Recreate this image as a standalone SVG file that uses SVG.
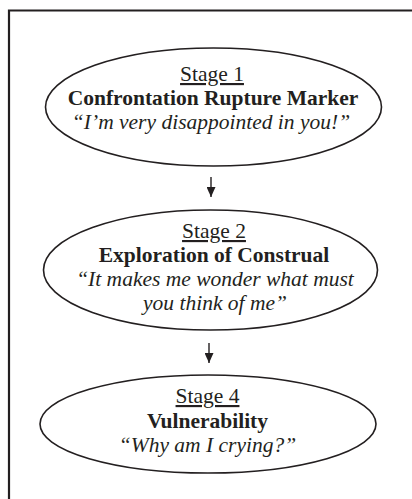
<svg xmlns="http://www.w3.org/2000/svg" width="412" height="499" viewBox="0 0 412 499">
<style>
.frame{fill:none;stroke:#231f20;stroke-width:2.2}
.node ellipse{fill:#fff;stroke:#231f20;stroke-width:1.6}
text{font-family:"Liberation Serif","Times New Roman",serif;font-size:21.5px;fill:#231f20;text-anchor:middle}
.stage{text-decoration:underline}
.title{font-weight:bold}
.quote{font-style:italic}
.edge{stroke:#231f20;stroke-width:1.4;fill:none;marker-end:url(#ah)}
</style>
<defs>
<marker id="ah" markerWidth="10" markerHeight="9" refX="10" refY="4.5" orient="auto" markerUnits="userSpaceOnUse" viewBox="0 0 10 9">
<path d="M0,0 L10,4.5 L0,9 Z" fill="#231f20"/>
</marker>
</defs>
<path class="frame" d="M9,499 L9,10.5 L412,10.5"/>
<g id="edges">
<line class="edge" x1="211" y1="177" x2="211" y2="197"/>
<line class="edge" x1="209" y1="343" x2="209" y2="363"/>
</g>
<g id="stage1" class="node">
<ellipse cx="213.5" cy="107" rx="168" ry="59"/>
<text x="212" y="81" class="stage">Stage 1</text>
<text x="213" y="105" class="title">Confrontation Rupture Marker</text>
<text x="211" y="129" class="quote">“I’m very disappointed in you!”</text>
</g>
<g id="stage2" class="node">
<ellipse cx="210.5" cy="270" rx="167" ry="60"/>
<text x="214" y="238" class="stage">Stage 2</text>
<text x="214" y="262" class="title">Exploration of Construal</text>
<text x="215" y="286" class="quote">“It makes me wonder what must</text>
<text x="215" y="310" class="quote">you think of me”</text>
</g>
<g id="stage4" class="node">
<ellipse cx="208" cy="424" rx="168" ry="49"/>
<text x="207.5" y="403" class="stage">Stage 4</text>
<text x="207.5" y="428" class="title">Vulnerability</text>
<text x="207.5" y="452" class="quote">“Why am I crying?”</text>
</g>
</svg>
